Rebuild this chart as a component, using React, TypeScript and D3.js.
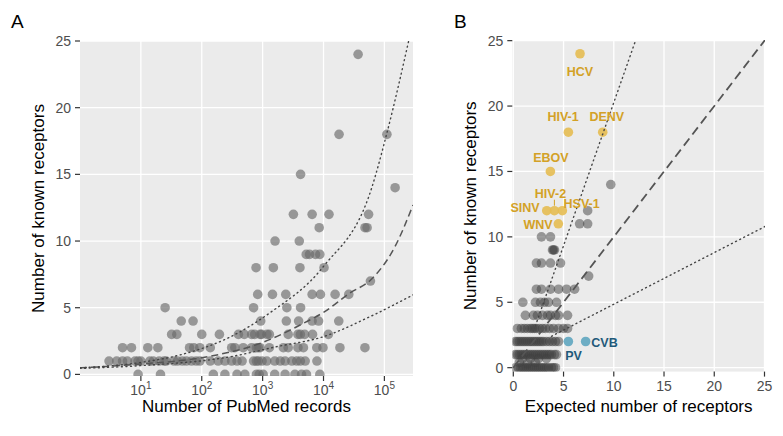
import * as d3 from "d3";
import React from "react";

// ---- panel A: known receptors vs PubMed records ----
const recordsA: number[] = [
  9, 21, 155, 240, 380, 510, 790, 880, 1020, 1580, 2340, 3390, 4360, 5250, 8700,
  3, 4, 5, 6, 8, 9, 10, 14, 16, 20, 24, 26, 35, 40, 48, 56, 68, 81, 93, 138, 186,
  240, 310, 380, 460, 710, 790, 850, 980, 1170, 1580, 1950, 2340, 3020, 3630,
  4170, 5000, 7800,
  5, 7, 13, 19, 63, 74, 93, 138, 310, 350, 480, 660, 790, 850, 910, 1290, 2190,
  2630, 3800, 4680, 7760, 9800, 18600, 47900,
  32, 39, 100, 195, 400, 500, 660, 740, 910, 960, 1175, 1290, 2630, 3800, 4170,
  4900, 6600, 12000,
  46, 72, 930, 2450, 3900, 6500, 8300, 17800,
  25, 710, 2500, 4200,
  830, 1450, 2400, 6500, 8900, 15500, 26000,
  59000,
  780, 1500, 4100, 10200,
  5200, 5900, 7400, 8700,
  1600, 4000,
  8500, 48000, 52000,
  3200, 6500, 12300, 55000,
  150000, 4200, 18000, 110000, 37000,
];
const receptorsA: number[] = [
  0, 0, 0, 0, 0, 0, 0, 0, 0, 0, 0, 0, 0, 0, 0,
  1, 1, 1, 1, 1, 1, 1, 1, 1, 1, 1, 1, 1, 1, 1, 1, 1, 1, 1, 1, 1,
  1, 1, 1, 1, 1, 1, 1, 1, 1, 1, 1, 1, 1, 1,
  1, 1, 1,
  2, 2, 2, 2, 2, 2, 2, 2, 2, 2, 2, 2, 2, 2, 2, 2, 2,
  2, 2, 2, 2, 2, 2, 2,
  3, 3, 3, 3, 3, 3, 3, 3, 3, 3, 3, 3, 3, 3, 3,
  3, 3, 3,
  4, 4, 4, 4, 4, 4, 4, 4,
  5, 5, 5, 5,
  6, 6, 6, 6, 6, 6, 6,
  7,
  8, 8, 8, 8,
  9, 9, 9, 9,
  10, 10,
  11, 11, 11,
  12, 12, 12, 12,
  14, 15, 18, 18, 24,
];
const fitA: [number, number][] = [
  [1, 0.49], [10, 0.78], [100, 1.25], [1000, 2.4], [5000, 3.9], [10000, 4.65],
  [27000, 6.1], [60000, 7.1], [150000, 9.6], [295000, 12.7],
];
const upperA: [number, number][] = [
  [1, 0.49], [10, 0.9], [44, 1.46], [300, 2.83], [1300, 4.6], [10000, 8.1],
  [62000, 14], [110000, 18.1], [265000, 25.5],
];
const lowerA: [number, number][] = [
  [1, 0.45], [10, 0.66], [300, 1.33], [1700, 2.08], [10000, 2.83],
  [58000, 4.33], [295000, 5.96],
];
const xTicksA = [1, 2, 3, 4, 5];
const yTicks = [0, 5, 10, 15, 20, 25];

// ---- panel B: known vs expected receptors ----
const expectedB: number[] = [
  0.2, 0.5, 0.7, 0.9, 1.1, 1.3, 1.5, 1.7, 1.9, 2.1, 2.3, 2.5, 2.7, 2.9, 3.1, 3.3, 3.5, 3.8, 4.0, 4.2, 0.6, 1.4, 2.2,
  0.2, 0.4, 0.6, 0.8, 1.0, 1.2, 1.4, 1.6, 1.8, 2.0, 2.2, 2.4, 2.6, 2.8, 3.0, 3.2, 3.4, 3.6, 3.8, 4.1, 4.3, 0.9, 1.7, 2.5, 3.3,
  0.2, 0.4, 0.6, 0.8, 1.0, 1.2, 1.4, 1.6, 1.8, 2.0, 2.2, 2.4, 2.6, 2.8, 3.0, 3.3, 3.6, 3.9, 4.2, 4.5,
  0.4, 0.8, 1.1, 1.4, 1.7, 1.9, 2.1, 2.3, 2.6, 2.9, 3.2, 3.6, 4.0, 4.5, 5.0, 5.4,
  1.2, 2.0, 2.4, 2.9, 3.4, 3.7, 4.2, 4.5, 5.4,
  0.95, 2.2, 2.7, 3.1, 3.5, 4.3,
  2.3, 2.8, 3.7, 4.5, 5.3, 6.1,
  7.5,
  2.3, 2.8, 3.7, 4.7,
  3.9, 4.0, 4.1,
  2.8, 3.7,
  6.6, 7.4,
  7.4,
  9.7,
];
const knownB: number[] = [
  0, 0, 0, 0, 0, 0, 0, 0, 0, 0, 0, 0, 0, 0, 0, 0, 0, 0, 0, 0, 0.4, 0.3, 0.4,
  1, 1, 1, 1, 1, 1, 1, 1, 1, 1, 1, 1, 1, 1, 1, 1, 1, 1, 1, 1, 1, 0.7, 0.7, 0.7, 0.7,
  2, 2, 2, 2, 2, 2, 2, 2, 2, 2, 2, 2, 2, 2, 2, 2, 2, 2, 2, 2,
  3, 3, 3, 3, 3, 3, 3, 3, 3, 3, 3, 3, 3, 3, 3, 3,
  4, 4, 4, 4, 4, 4, 4, 4, 4,
  5, 5, 5, 5, 5, 5,
  6, 6, 6, 6, 6, 6,
  7,
  8, 8, 8, 8,
  9, 9, 9,
  10, 10,
  11, 11,
  12,
  14,
];
const upperB: [number, number][] = [[2.2, 3.2], [12.3, 25.3]];
const lowerB: [number, number][] = [[3.8, 2.4], [25.2, 10.85]];
const identityB: [number, number][] = [[0, 0], [25.2, 25.2]];
const xTicksB = [0, 5, 10, 15, 20, 25];

// highlighted viruses
const virusNames = ["HCV", "HIV-1", "DENV", "EBOV", "HIV-2", "SINV", "HSV-1", "WNV", "CVB", "PV"];
const virusExpected = [6.64, 5.48, 8.9, 3.69, 4.09, 3.33, 4.88, 4.48, 7.2, 5.48];
const virusKnown = [24, 18, 18, 15, 12, 12, 12, 11, 2, 2];
const virusGroup = ["hi", "hi", "hi", "hi", "hi", "hi", "hi", "hi", "lo", "lo"];
// label anchors (data units) as placed by the repel layout
const labelExpected = [6.64, 4.95, 9.3, 3.75, 3.7, 1.17, 6.8, 2.46, 9.08, 6.0];
const labelKnown = [22.66, 19.17, 19.17, 16.1, 13.3, 12.23, 12.56, 10.93, 1.95, 0.93];

const FONT = "'Liberation Sans', Arial, sans-serif";
const GRID = "#ffffff";
const BG = "#ebebeb";
const TICK = "#333333";
const TICKTXT = "#4d4d4d";
const R = 4.8;

const App: React.FC = () => {
  const xA = d3.scaleLog().domain([1, Math.pow(10, 5.47)]).range([80, 413]);
  const yA = d3.scaleLinear().domain([-0.12, 25]).range([376, 41]);
  const xB = d3.scaleLinear().domain([-0.1, 25.05]).range([512.3, 765]);
  const yB = d3.scaleLinear().domain([-0.3, 25.05]).range([371.6, 40]);

  const lineA = d3
    .line<[number, number]>()
    .x((d) => xA(d[0]))
    .y((d) => yA(d[1]))
    .curve(d3.curveMonotoneX);
  const lineB = d3
    .line<[number, number]>()
    .x((d) => xB(d[0]))
    .y((d) => yB(d[1]));

  const [ax0, ax1] = xA.range();
  const [ay0, ay1] = yA.range();
  const [bx0, bx1] = xB.range();
  const [by0, by1] = yB.range();

  const gold = "#e5bd52";
  const goldTxt = "#d3a126";
  const blue = "#5fa6c0";
  const blueTxt = "#1f5a7a";

  return (
    <svg width={783} height={436} style={{ display: "block", position: "absolute", left: 0, top: 0 }} fontFamily={FONT}>
      <defs>
        <clipPath id="clipA">
          <rect x={ax0} y={ay1} width={ax1 - ax0} height={ay0 - ay1} />
        </clipPath>
        <clipPath id="clipB">
          <rect x={bx0} y={by1} width={bx1 - bx0} height={by0 - by1} />
        </clipPath>
      </defs>
      <rect width={783} height={436} fill="#ffffff" />

      {/* ---------- panel A ---------- */}
      <rect x={ax0} y={ay1} width={ax1 - ax0} height={ay0 - ay1} fill={BG} />
      {yTicks.map((t) => (
        <line key={"gya" + t} x1={ax0} x2={ax1} y1={yA(t)} y2={yA(t)} stroke={GRID} strokeWidth={1.3} />
      ))}
      {xTicksA.map((t) => (
        <line key={"gxa" + t} x1={xA(Math.pow(10, t))} x2={xA(Math.pow(10, t))} y1={ay1} y2={ay0} stroke={GRID} strokeWidth={1.3} />
      ))}
      <g clipPath="url(#clipA)">
        {recordsA.map((r, i) => (
          <circle key={"pa" + i} cx={xA(r)} cy={yA(receptorsA[i])} r={R} fill="#6a6a6a" fillOpacity={0.65} />
        ))}
        <path d={lineA(fitA) || ""} fill="none" stroke="#555555" strokeWidth={1.5} strokeDasharray="7,4" />
        <path d={lineA(upperA) || ""} fill="none" stroke="#444444" strokeWidth={1.4} strokeDasharray="1,3.6" strokeLinecap="round" />
        <path d={lineA(lowerA) || ""} fill="none" stroke="#444444" strokeWidth={1.4} strokeDasharray="1,3.6" strokeLinecap="round" />
      </g>
      {yTicks.map((t) => (
        <g key={"tya" + t}>
          <line x1={ax0 - 5} x2={ax0} y1={yA(t)} y2={yA(t)} stroke={TICK} strokeWidth={1.2} />
          <text x={ax0 - 9} y={yA(t)} dy="0.35em" textAnchor="end" fontSize={14} fill={TICKTXT}>
            {t}
          </text>
        </g>
      ))}
      {xTicksA.map((t) => (
        <g key={"txa" + t}>
          <line x1={xA(Math.pow(10, t))} x2={xA(Math.pow(10, t))} y1={ay0} y2={ay0 + 5} stroke={TICK} strokeWidth={1.2} />
          <text x={xA(Math.pow(10, t))} y={ay0 + 19} textAnchor="middle" fontSize={14} fill={TICKTXT}>
            10
            <tspan fontSize={10} dy={-6}>
              {t}
            </tspan>
          </text>
        </g>
      ))}
      <text x={(ax0 + ax1) / 2} y={412} textAnchor="middle" fontSize={17} fill="#000">
        Number of PubMed records
      </text>
      <text transform={`translate(44,${(ay0 + ay1) / 2}) rotate(-90)`} textAnchor="middle" fontSize={17} fill="#000">
        Number of known receptors
      </text>
      <text x={11} y={28} fontSize={19} fill="#000">
        A
      </text>

      {/* ---------- panel B ---------- */}
      <rect x={bx0} y={by1} width={bx1 - bx0} height={by0 - by1} fill={BG} />
      {yTicks.map((t) => (
        <line key={"gyb" + t} x1={bx0} x2={bx1} y1={yB(t)} y2={yB(t)} stroke={GRID} strokeWidth={1.3} />
      ))}
      {xTicksB.map((t) => (
        <line key={"gxb" + t} x1={xB(t)} x2={xB(t)} y1={by1} y2={by0} stroke={GRID} strokeWidth={1.3} />
      ))}
      <g clipPath="url(#clipB)">
        {expectedB.map((e, i) => (
          <circle key={"pb" + i} cx={xB(e)} cy={yB(knownB[i])} r={R} fill="#404040" fillOpacity={0.5} />
        ))}
        {virusNames.map((n, i) => (
          <circle
            key={"pv" + n}
            cx={xB(virusExpected[i])}
            cy={yB(virusKnown[i])}
            r={R}
            fill={virusGroup[i] === "hi" ? gold : blue}
            fillOpacity={0.9}
          />
        ))}
        <path d={lineB(identityB) || ""} fill="none" stroke="#555555" strokeWidth={1.8} strokeDasharray="9,5" />
        <path d={lineB(upperB) || ""} fill="none" stroke="#444444" strokeWidth={1.4} strokeDasharray="1,3.6" strokeLinecap="round" />
        <path d={lineB(lowerB) || ""} fill="none" stroke="#444444" strokeWidth={1.4} strokeDasharray="1,3.6" strokeLinecap="round" />
      </g>
      {/* leader segment for HIV-2 */}
      <line
        x1={xB(virusExpected[4])}
        x2={xB(virusExpected[4])}
        y1={yB(labelKnown[4]) + 6}
        y2={yB(virusKnown[4]) - 5}
        stroke={goldTxt}
        strokeWidth={1}
      />
      {virusNames.map((n, i) => (
        <text
          key={"lv" + n}
          x={xB(labelExpected[i])}
          y={yB(labelKnown[i])}
          dy="0.36em"
          textAnchor="middle"
          fontSize={12.5}
          fontWeight="bold"
          fill={virusGroup[i] === "hi" ? goldTxt : blueTxt}
        >
          {n}
        </text>
      ))}
      {yTicks.map((t) => (
        <g key={"tyb" + t}>
          <line x1={bx0 - 5} x2={bx0} y1={yB(t)} y2={yB(t)} stroke={TICK} strokeWidth={1.2} />
          <text x={bx0 - 9} y={yB(t)} dy="0.35em" textAnchor="end" fontSize={14} fill={TICKTXT}>
            {t}
          </text>
        </g>
      ))}
      {xTicksB.map((t) => (
        <g key={"txb" + t}>
          <line x1={xB(t)} x2={xB(t)} y1={by0} y2={by0 + 5} stroke={TICK} strokeWidth={1.2} />
          <text x={xB(t)} y={by0 + 19} textAnchor="middle" fontSize={14} fill={TICKTXT}>
            {t}
          </text>
        </g>
      ))}
      <text x={(bx0 + bx1) / 2} y={412} textAnchor="middle" fontSize={17} fill="#000">
        Expected number of receptors
      </text>
      <text transform={`translate(476,${(by0 + by1) / 2}) rotate(-90)`} textAnchor="middle" fontSize={17} fill="#000">
        Number of known receptors
      </text>
      <text x={454} y={28} fontSize={19} fill="#000">
        B
      </text>
    </svg>
  );
};

export default App;
